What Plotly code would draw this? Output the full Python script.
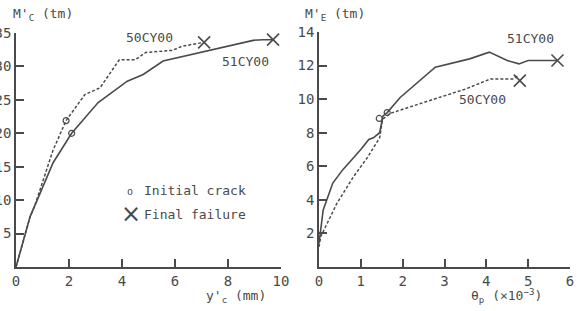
import plotly.graph_objects as go

# ---- data ----
# left panel: M'C (tm) vs y'c (mm)
l51_x = [0, 0.53, 1.4, 2.1, 3.1, 4.2, 4.8, 5.55, 8.95, 9.3, 9.7]
l51_y = [0, 7.5, 15.6, 20.0, 24.6, 27.8, 28.8, 30.8, 33.9, 34.0, 34.0]
l50_x = [0, 0.53, 0.72, 1.4, 1.89, 2.6, 3.17, 3.9, 4.5, 4.9, 5.9, 6.25, 6.8, 7.1]
l50_y = [0, 7.5, 9.3, 17.5, 21.9, 25.8, 26.8, 31.0, 31.0, 32.1, 32.4, 33.0, 33.4, 33.6]
l_crack_x = [2.1, 1.89]
l_crack_y = [20.0, 21.9]
l_fail_x = [9.7, 7.1]
l_fail_y = [34.0, 33.6]

# right panel: M'E (tm) vs theta_p (x10^-3)
r51_x = [0, 0.1, 0.33, 0.57, 1.0, 1.19, 1.3, 1.45, 1.53, 1.63, 1.94, 2.78, 3.6, 4.07, 4.5, 4.78, 5.0, 5.7]
r51_y = [1.4, 3.4, 5.0, 5.8, 7.0, 7.6, 7.7, 8.0, 9.0, 9.2, 10.1, 11.9, 12.4, 12.8, 12.3, 12.1, 12.3, 12.3]
r50_x = [0, 0.04, 0.43, 0.83, 1.15, 1.45, 1.52, 1.7, 2.5, 3.5, 4.1, 4.65, 4.75]
r50_y = [1.2, 1.8, 3.8, 5.4, 6.5, 7.7, 8.8, 9.15, 9.8, 10.6, 11.2, 11.2, 11.4]
r_crack_x = [1.63, 1.44]
r_crack_y = [9.2, 8.85]
r_fail_x = [5.7, 4.8]
r_fail_y = [12.3, 11.1]

l_xticks = [0, 2, 4, 6, 8, 10]
l_yticks = [5, 10, 15, 20, 25, 30, 35]
r_xticks = [0, 1, 2, 3, 4, 5, 6]
r_yticks = [2, 4, 6, 8, 10, 12, 14]

INK = "#4a4a4a"
FONT = "DejaVu Sans Mono"

fig = go.Figure()

def add_panel(xa, ya, sx, sy, dx, dy, cx, cy, fx, fy):
    fig.add_trace(go.Scatter(x=sx, y=sy, mode="lines", xaxis=xa, yaxis=ya,
                             line=dict(color=INK, width=1.6), showlegend=False))
    fig.add_trace(go.Scatter(x=dx, y=dy, mode="lines", xaxis=xa, yaxis=ya,
                             line=dict(color=INK, width=1.5, dash="3px,2px"), showlegend=False))
    fig.add_trace(go.Scatter(x=cx, y=cy, mode="markers", xaxis=xa, yaxis=ya,
                             marker=dict(symbol="circle-open", size=6, color=INK, line=dict(width=1.2)),
                             showlegend=False))
    fig.add_trace(go.Scatter(x=fx, y=fy, mode="markers", xaxis=xa, yaxis=ya,
                             marker=dict(symbol="x-thin-open", size=12, color=INK, line=dict(width=1.6, color=INK)),
                             showlegend=False))

add_panel("x", "y", l51_x, l51_y, l50_x, l50_y, l_crack_x, l_crack_y, l_fail_x, l_fail_y)
add_panel("x2", "y2", r51_x, r51_y, r50_x, r50_y, r_crack_x, r_crack_y, r_fail_x, r_fail_y)

axis_common = dict(showgrid=False, zeroline=False, showline=True, linecolor=INK, linewidth=1.5,
                   ticks="inside", ticklen=8, tickwidth=1.5, tickcolor=INK, automargin=False,
                   tickfont=dict(family=FONT, size=14, color=INK))

W, H = 577, 311
def px(x):
    return x / W
def py(y):
    return 1 - y / H

fig.update_layout(
    width=W, height=H,
    margin=dict(l=0, r=0, t=0, b=0),
    paper_bgcolor="white", plot_bgcolor="white",
    xaxis=dict(domain=[px(16), px(281)], range=[0, 10], tickvals=l_xticks, anchor="y", **axis_common),
    yaxis=dict(domain=[py(267), py(33)], range=[0, 35], tickvals=l_yticks, anchor="x", **axis_common),
    xaxis2=dict(domain=[px(319), px(570)], range=[0, 6], tickvals=r_xticks, anchor="y2", **axis_common),
    yaxis2=dict(domain=[py(267), py(32)], range=[0, 14], tickvals=r_yticks, anchor="x2", **axis_common),
)

tf = dict(family=FONT, size=13, color=INK)
ann = [
    # series labels
    dict(x=5.05, y=34.3, xref="x", yref="y", text="50CY00"),
    dict(x=8.65, y=30.7, xref="x", yref="y", text="51CY00"),
    dict(x=5.05, y=13.6, xref="x2", yref="y2", text="51CY00"),
    dict(x=3.92, y=10.0, xref="x2", yref="y2", text="50CY00"),
    # axis titles
    dict(x=px(43), y=py(15), xref="paper", yref="paper", text="M'<sub>C</sub> (tm)"),
    dict(x=px(335), y=py(15), xref="paper", yref="paper", text="M'<sub>E</sub> (tm)"),
    dict(x=px(236), y=py(296), xref="paper", yref="paper", text="y'<sub>c</sub> (mm)"),
    dict(x=px(506), y=py(296), xref="paper", yref="paper", text="θ<sub>p</sub> (×10<sup>−3</sup>)"),
    # legend
    dict(x=px(130), y=py(191), xref="paper", yref="paper", text="o",
         font=dict(family=FONT, size=10, color=INK)),
    dict(x=px(142), y=py(190), xref="paper", yref="paper", xanchor="left", text="Initial crack"),
    dict(x=px(131), y=py(214), xref="paper", yref="paper", text="×",
         font=dict(family="DejaVu Sans", size=24, color=INK)),
    dict(x=px(142), y=py(214), xref="paper", yref="paper", xanchor="left", text="Final failure"),
]
for a in ann:
    a.setdefault("showarrow", False)
    a.setdefault("font", tf)
    a.setdefault("xanchor", "center")
    a.setdefault("yanchor", "middle")
    fig.add_annotation(**a)

fig.write_html("out.html", config={"displayModeBar": False},
               post_script="document.body.style.margin='0';")
